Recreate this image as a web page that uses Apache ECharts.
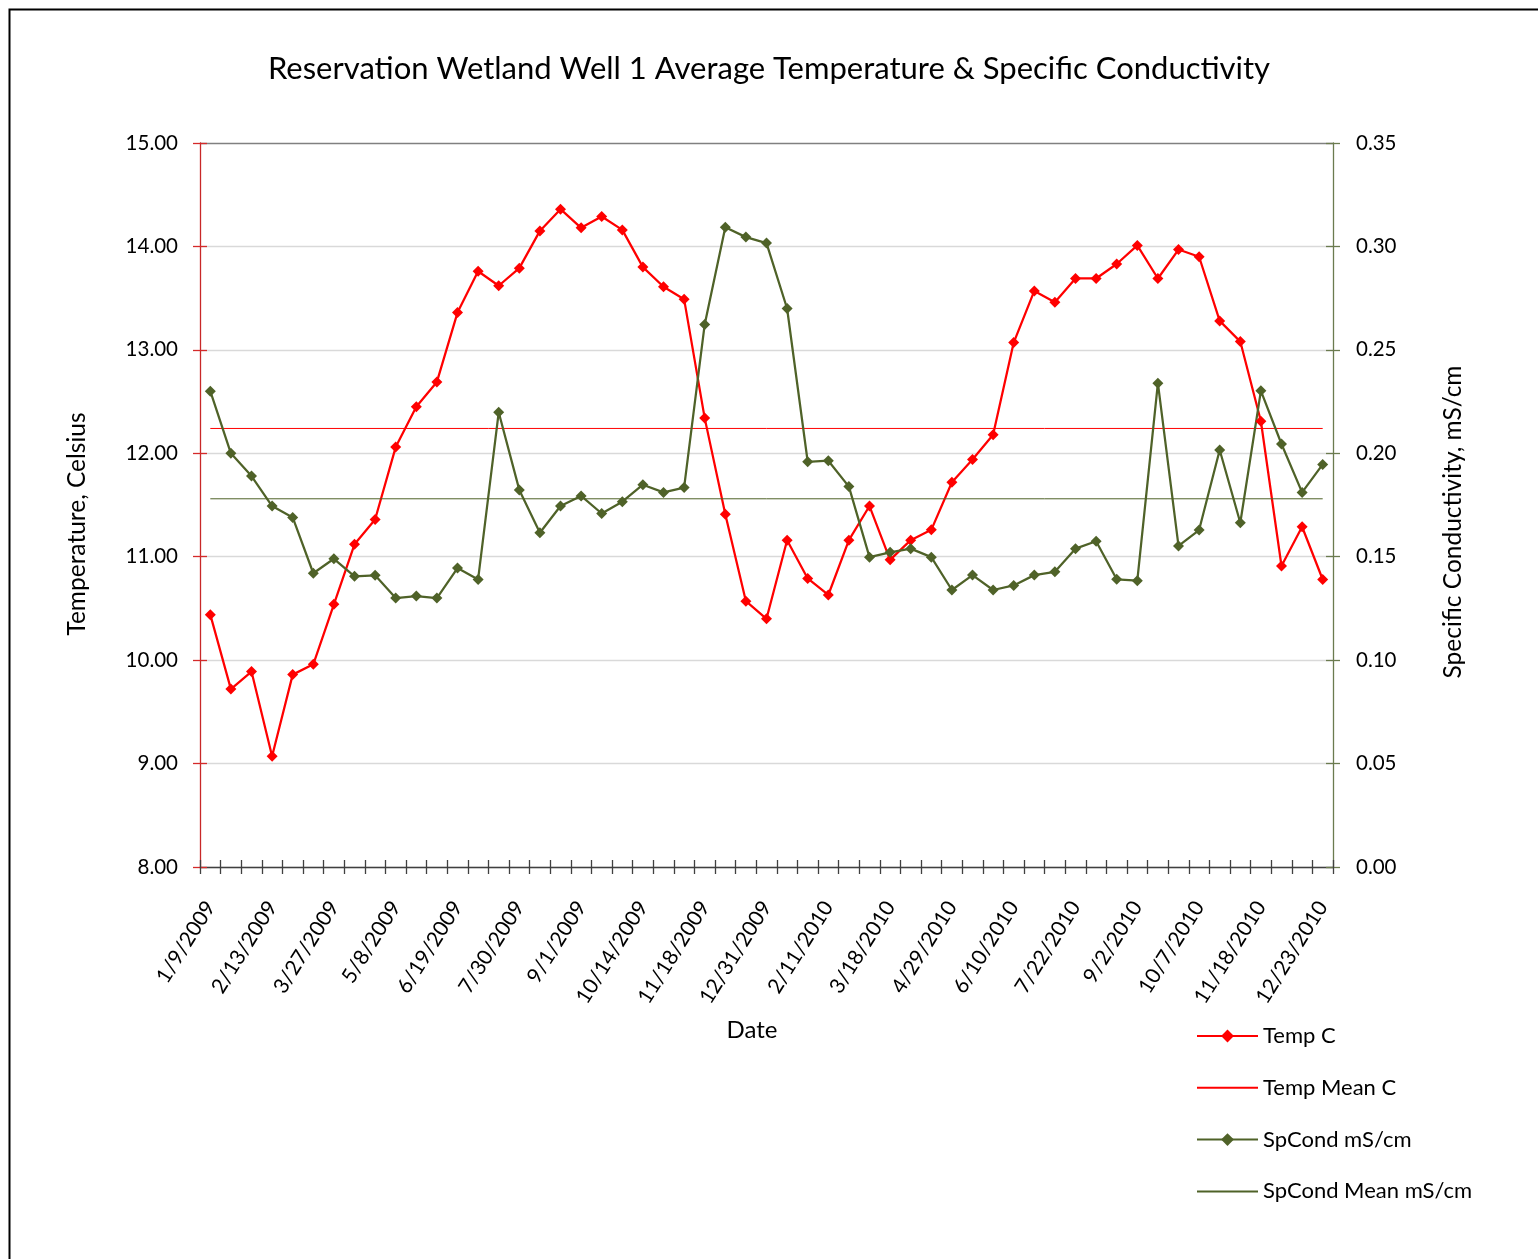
<!DOCTYPE html>
<html>
<head>
<meta charset="utf-8">
<script src="https://cdn.jsdelivr.net/npm/echarts@6/dist/echarts.min.js"></script>
<style>
html,body{margin:0;padding:0;background:#fff;}
#chart{width:1538px;height:1259px;}
</style>
</head>
<body>
<div id="chart"></div>
<script>
// ---- data ----
const dates = [
  '1/9/2009','1/23/2009','2/2/2009','2/13/2009','2/27/2009','3/13/2009','3/27/2009',
  '4/10/2009','4/24/2009','5/8/2009','5/22/2009','6/5/2009','6/19/2009','7/2/2009',
  '7/16/2009','7/30/2009','8/13/2009','8/20/2009','9/1/2009','9/15/2009','9/29/2009',
  '10/14/2009','10/28/2009','11/4/2009','11/18/2009','12/2/2009','12/16/2009','12/31/2009',
  '1/14/2010','1/28/2010','2/11/2010','2/25/2010','3/4/2010','3/18/2010','4/1/2010',
  '4/15/2010','4/29/2010','5/13/2010','5/27/2010','6/10/2010','6/24/2010','7/8/2010',
  '7/22/2010','8/5/2010','8/19/2010','9/2/2010','9/16/2010','9/23/2010','10/7/2010',
  '10/21/2010','11/4/2010','11/18/2010','12/2/2010','12/9/2010','12/23/2010'
];
const tempC = [
  10.44, 9.72, 9.89, 9.07, 9.86, 9.96, 10.54,
  11.12, 11.36, 12.06, 12.45, 12.69, 13.36, 13.76,
  13.62, 13.79, 14.15, 14.36, 14.18, 14.29, 14.16,
  13.80, 13.61, 13.49, 12.34, 11.41, 10.57, 10.40,
  11.16, 10.79, 10.63, 11.16, 11.49, 10.97, 11.16,
  11.26, 11.72, 11.94, 12.18, 13.07, 13.57, 13.46,
  13.69, 13.69, 13.83, 14.01, 13.69, 13.97, 13.90,
  13.28, 13.08, 12.31, 10.91, 11.29, 10.78
];
const spCond = [
  0.230, 0.200, 0.189, 0.1745, 0.169, 0.142, 0.149,
  0.1405, 0.141, 0.130, 0.131, 0.130, 0.1445, 0.139,
  0.2198, 0.1823, 0.1616, 0.1745, 0.1794, 0.1709, 0.1766,
  0.1848, 0.1811, 0.1834, 0.2623, 0.3093, 0.3045, 0.3016,
  0.270, 0.1959, 0.1964, 0.1839, 0.1498, 0.1521, 0.1539,
  0.1498, 0.1339, 0.1411, 0.1339, 0.1361, 0.1411, 0.1427,
  0.1539, 0.1575, 0.1391, 0.1384, 0.2339, 0.1552, 0.1629,
  0.2016, 0.1664, 0.2302, 0.2045, 0.1811, 0.1946
];
const TEMP_MEAN = 12.24;
const SPCOND_MEAN = 0.178;
const tempAxis = { min: 8, max: 15, interval: 1 };
const condAxis = { min: 0, max: 0.35, interval: 0.05 };

const FONT = 'Lato';
const RED = '#FF0000';
const OLIVE = '#4F6228';

const gridBox = { left: 200, right: 205, top: 143, bottom: 392 };

const chart = echarts.init(document.getElementById('chart'), null, { renderer: 'canvas' });

const labelStyle = { fontFamily: FONT, fontSize: 20.5, color: '#000' };
const hiddenIcon = { color: 'rgba(0,0,0,0)', borderColor: 'rgba(0,0,0,0)', borderWidth: 0 };

const option = {
  animation: false,
  backgroundColor: '#fff',
  title: {
    text: 'Reservation Wetland Well 1 Average Temperature & Specific Conductivity',
    left: 'center',
    top: 48,
    textStyle: { fontFamily: FONT, fontSize: 31, fontWeight: 'normal', color: '#000' }
  },
  legend: {
    orient: 'vertical',
    left: 1196,
    top: 1025,
    padding: 0,
    itemWidth: 61,
    itemHeight: 16,
    itemGap: 29.8,
    textStyle: { fontFamily: FONT, fontSize: 22, color: '#000', lineHeight: 20 },
    data: [
      { name: 'Temp C' },
      { name: 'Temp Mean C', itemStyle: hiddenIcon },
      { name: 'SpCond mS/cm' },
      { name: 'SpCond Mean mS/cm', itemStyle: hiddenIcon }
    ]
  },
  grid: [
    Object.assign({ containLabel: false }, gridBox),
    Object.assign({ containLabel: false }, gridBox)
  ],
  xAxis: [
    {
      type: 'category', gridIndex: 0, data: dates, boundaryGap: true, position: 'bottom',
      axisLine: { show: true, lineStyle: { color: '#404040', width: 1.3 } },
      axisTick: { show: true, interval: 0, length: 7, inside: false, lineStyle: { color: '#404040', width: 1.3 } },
      axisLabel: Object.assign({ interval: 2, rotate: 58, margin: 36 }, labelStyle, { fontSize: 21 }),
      splitLine: { show: false }
    },
    {
      type: 'category', gridIndex: 1, data: dates, boundaryGap: true, position: 'bottom',
      axisLine: { show: false },
      axisTick: { show: true, interval: 0, length: 7, inside: true, lineStyle: { color: '#404040', width: 1.3 } },
      axisLabel: { show: false },
      splitLine: { show: false }
    }
  ],
  yAxis: [
    {
      type: 'value', gridIndex: 0, position: 'left',
      min: tempAxis.min, max: tempAxis.max, interval: tempAxis.interval,
      axisLine: { show: true, lineStyle: { color: '#C82828', width: 1.3 } },
      axisTick: { show: true, length: 7, lineStyle: { color: '#D42A2A', width: 1.3 } },
      axisLabel: Object.assign({ margin: 22, formatter: v => v.toFixed(2) }, labelStyle),
      splitLine: { show: true, lineStyle: { width: 1.3, color: ['#d9d9d9','#d9d9d9','#d9d9d9','#d9d9d9','#d9d9d9','#d9d9d9','#d9d9d9','#808080'] } }
    },
    {
      type: 'value', gridIndex: 0, position: 'right',
      min: condAxis.min, max: condAxis.max, interval: condAxis.interval,
      axisLine: { show: true, lineStyle: { color: '#6B7B4F', width: 1.3 } },
      axisTick: { show: true, length: 7, lineStyle: { color: '#6B7B4F', width: 1.3 } },
      axisLabel: Object.assign({ margin: 23, formatter: v => v.toFixed(2) }, labelStyle),
      splitLine: { show: false }
    },
    {
      type: 'value', gridIndex: 1, position: 'left',
      min: tempAxis.min, max: tempAxis.max, interval: tempAxis.interval,
      axisLine: { show: false },
      axisTick: { show: true, inside: true, length: 7, lineStyle: { color: '#D42A2A', width: 1.3 } },
      axisLabel: { show: false },
      splitLine: { show: false }
    },
    {
      type: 'value', gridIndex: 1, position: 'right',
      min: condAxis.min, max: condAxis.max, interval: condAxis.interval,
      axisLine: { show: false },
      axisTick: { show: true, inside: true, length: 7, lineStyle: { color: '#6B7B4F', width: 1.3 } },
      axisLabel: { show: false },
      splitLine: { show: false }
    }
  ],
  series: [
    {
      name: 'Temp C', type: 'line', xAxisIndex: 0, yAxisIndex: 0, data: tempC,
      symbol: 'diamond', symbolSize: 11, showSymbol: true,
      lineStyle: { color: RED, width: 2.25 }, itemStyle: { color: RED }
    },
    {
      name: 'Temp Mean C', type: 'line', xAxisIndex: 0, yAxisIndex: 0,
      data: [[dates[0], TEMP_MEAN], [dates[dates.length - 1], TEMP_MEAN]],
      symbol: 'none', lineStyle: { color: RED, width: 1 }, itemStyle: { color: RED }
    },
    {
      name: 'SpCond mS/cm', type: 'line', xAxisIndex: 0, yAxisIndex: 1, data: spCond,
      symbol: 'diamond', symbolSize: 11, showSymbol: true,
      lineStyle: { color: OLIVE, width: 2.25 }, itemStyle: { color: OLIVE }
    },
    {
      name: 'SpCond Mean mS/cm', type: 'line', xAxisIndex: 0, yAxisIndex: 1,
      data: [[dates[0], SPCOND_MEAN], [dates[dates.length - 1], SPCOND_MEAN]],
      symbol: 'none', lineStyle: { color: OLIVE, width: 1 }, itemStyle: { color: OLIVE }
    }
  ],
  graphic: [
    {
      type: 'rect', left: 7, top: 7, silent: true,
      shape: { width: 1600, height: 1300 },
      style: { fill: 'none', stroke: '#000', lineWidth: 2 }
    },
    {
      type: 'text', x: 77, y: 524, rotation: Math.PI / 2,
      style: { text: 'Temperature, Celsius', align: 'center', verticalAlign: 'middle',
        fontFamily: FONT, fontSize: 24.5, fill: '#000' }
    },
    {
      type: 'text', x: 1453, y: 522, rotation: Math.PI / 2,
      style: { text: 'Specific Conductivity, mS/cm', align: 'center', verticalAlign: 'middle',
        fontFamily: FONT, fontSize: 24.5, fill: '#000' }
    },
    {
      type: 'text', x: 752, y: 1030,
      style: { text: 'Date', align: 'center', verticalAlign: 'middle',
        fontFamily: FONT, fontSize: 24, fill: '#000' }
    }
  ]
};
chart.setOption(option);
</script>
</body>
</html>
